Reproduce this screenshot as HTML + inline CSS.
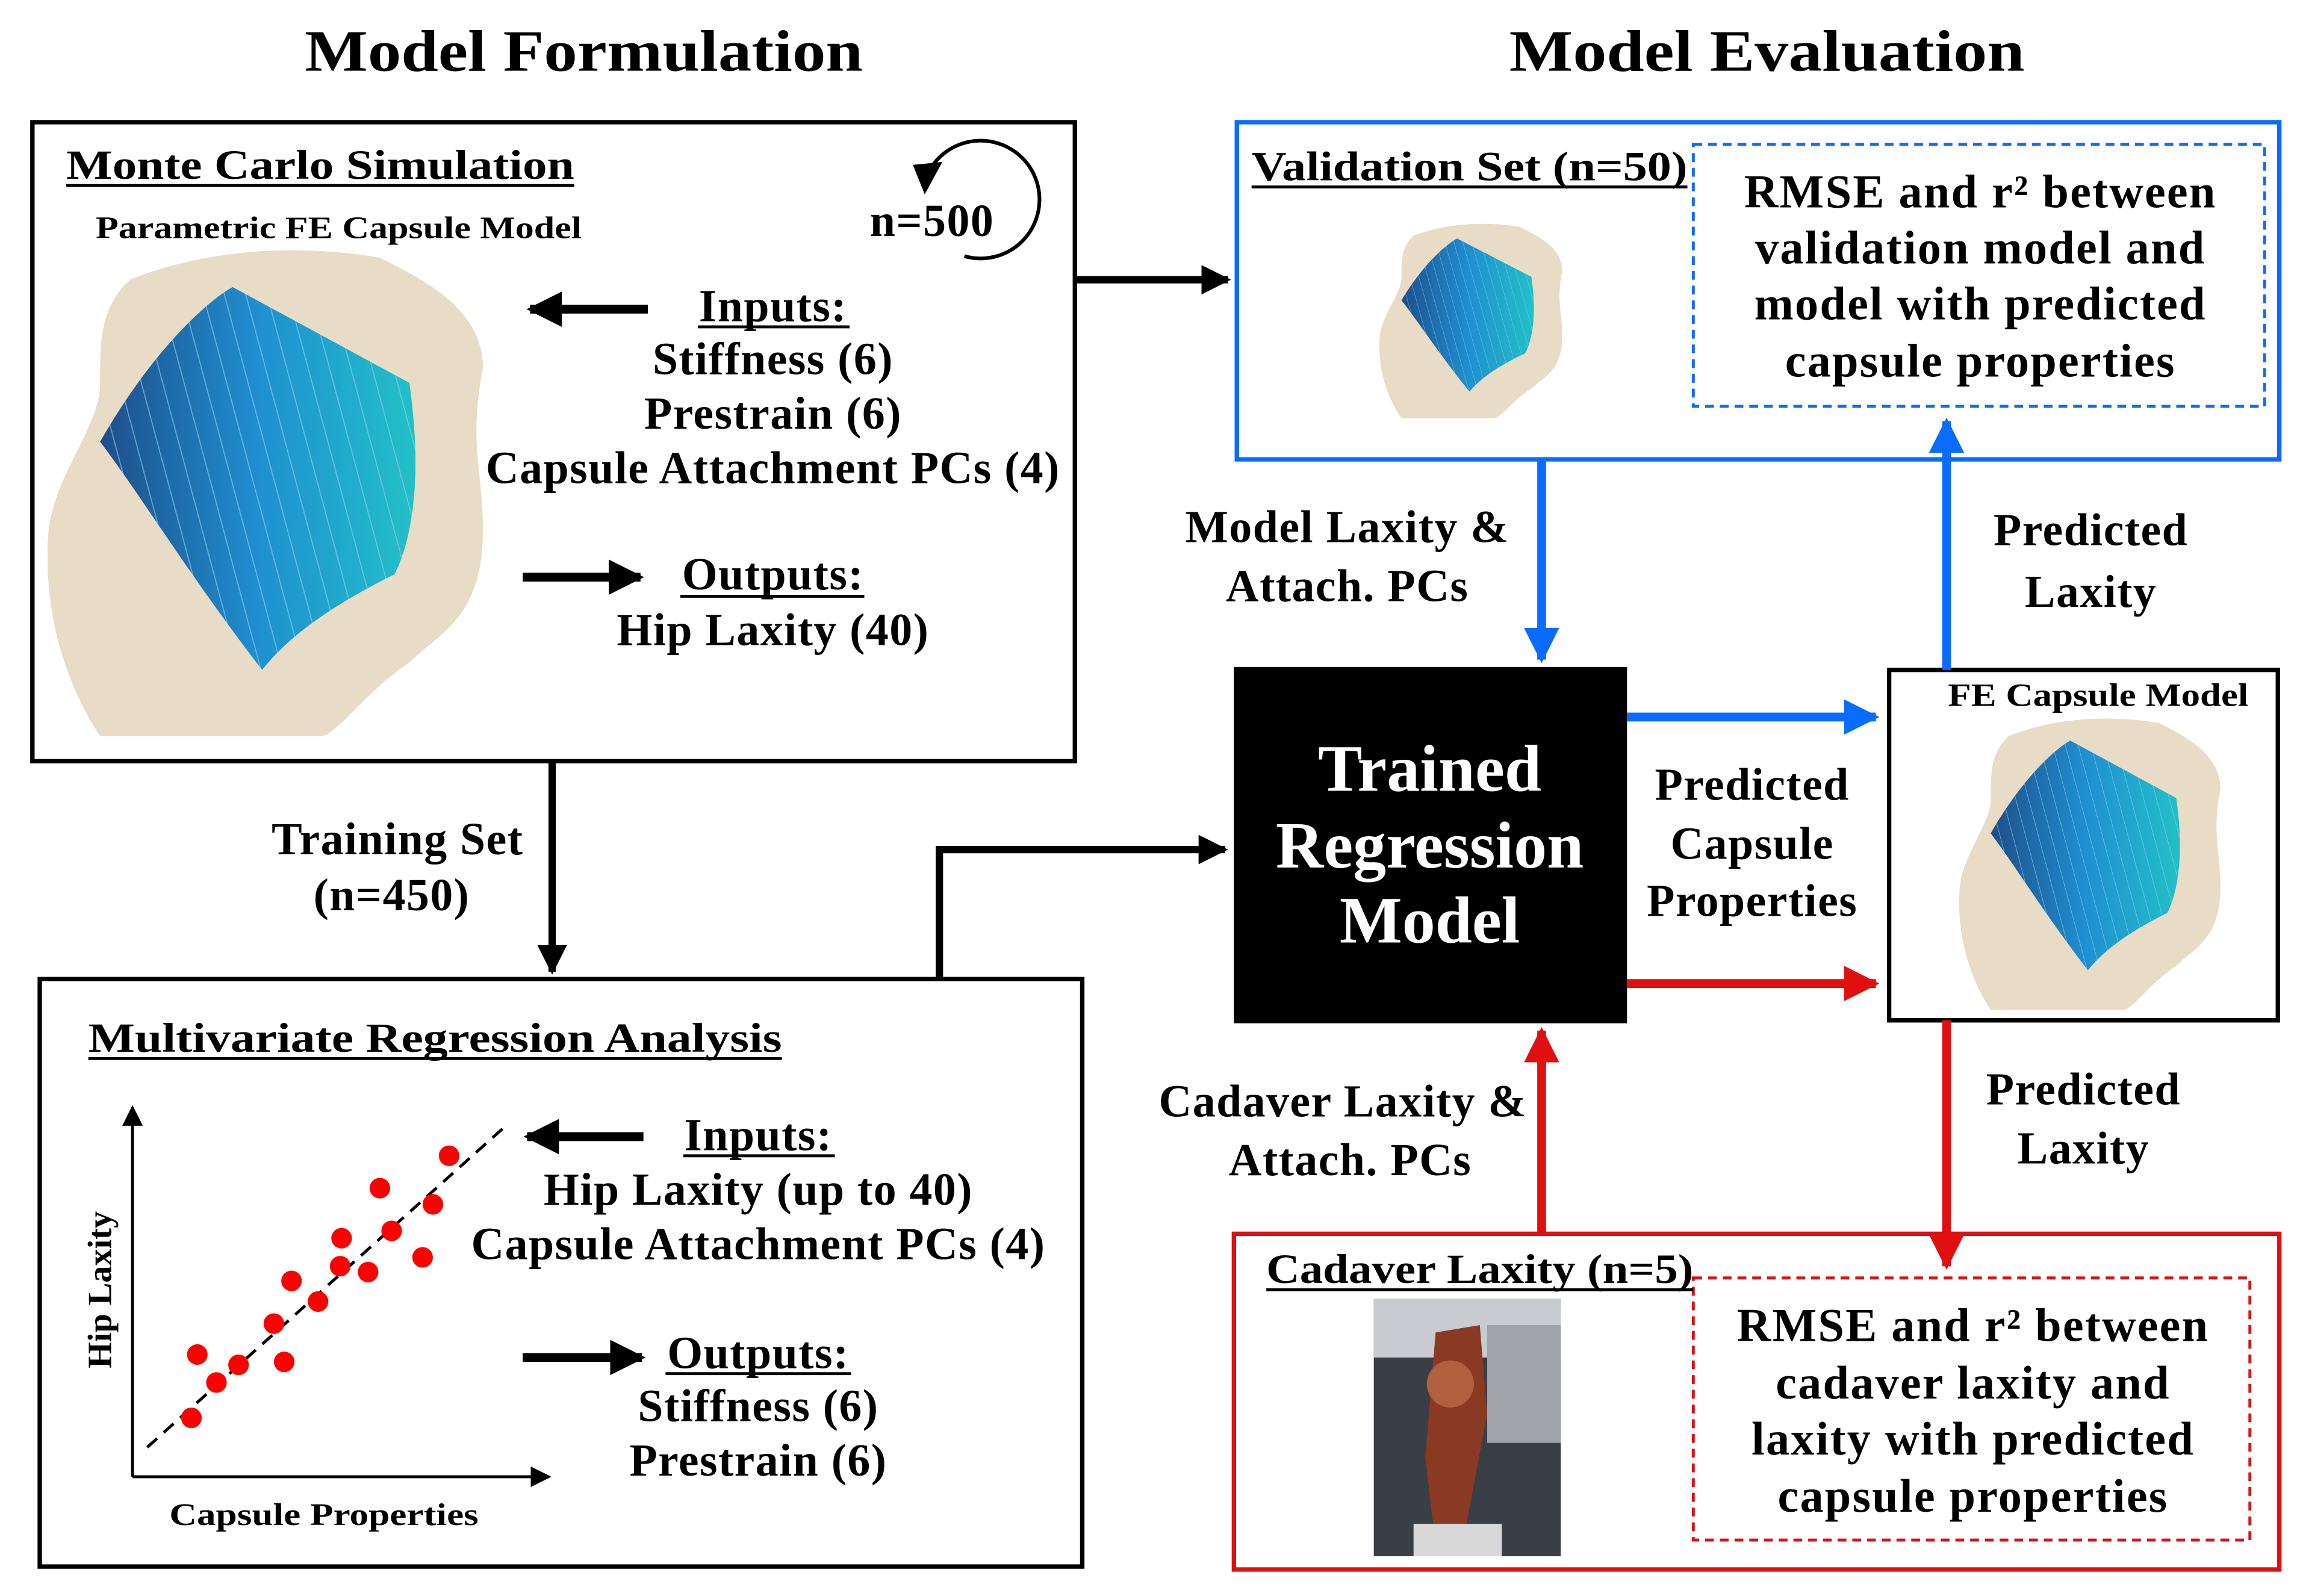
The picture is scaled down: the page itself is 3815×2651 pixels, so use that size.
<!DOCTYPE html>
<html><head><meta charset="utf-8"><style>
html,body{margin:0;padding:0;background:#fff;}
svg{display:block;}
text{font-family:"Liberation Serif",serif;font-weight:bold;fill:#000;}
.b{font-size:31px;letter-spacing:0.6px;}
.r{font-size:32px;letter-spacing:0.9px;}
</style></head><body>
<svg width="3815" height="2651" viewBox="0 0 1560 1084" preserveAspectRatio="none" xmlns="http://www.w3.org/2000/svg">
<defs>
<marker id="ak" viewBox="0 0 10 10" refX="9" refY="5" markerWidth="4" markerHeight="4" orient="auto"><path d="M0,0 L10,5 L0,10 z" fill="#000"/></marker>
<marker id="ab" viewBox="0 0 10 10" refX="9" refY="5" markerWidth="4" markerHeight="4" orient="auto"><path d="M0,0 L10,5 L0,10 z" fill="#0a6cff"/></marker>
<marker id="ar" viewBox="0 0 10 10" refX="9" refY="5" markerWidth="4" markerHeight="4" orient="auto"><path d="M0,0 L10,5 L0,10 z" fill="#e01010"/></marker>
<marker id="as" viewBox="0 0 10 10" refX="9" refY="5" markerWidth="7" markerHeight="7" orient="auto"><path d="M0,0 L10,5 L0,10 z" fill="#000"/></marker>
<linearGradient id="cap" x1="0" y1="0" x2="1" y2="0"><stop offset="0" stop-color="#1e4e8a"/><stop offset="0.5" stop-color="#1f8fd0"/><stop offset="1" stop-color="#22c0c8"/></linearGradient>
<pattern id="str" width="14" height="14" patternUnits="userSpaceOnUse" patternTransform="rotate(-15)"><rect width="14" height="14" fill="none"/><line x1="0" y1="0" x2="0" y2="14" stroke="#8fd0f0" stroke-width="1.5" opacity="0.6"/></pattern>
<g id="hip">
<path d="M60,20 C110,0 170,-5 230,5 C260,20 300,40 300,80 C290,130 300,150 300,190 C300,250 270,260 250,280 C220,300 200,330 190,330 L40,330 C20,300 0,250 5,190 C10,150 40,120 40,90 C40,60 40,40 60,20 z" fill="#e8dcc6"/>
<path d="M40,130 C80,60 120,30 130,25 L250,90 C260,160 250,200 240,220 C200,240 170,260 150,285 C100,220 70,170 40,130 z" fill="url(#cap)"/>
<path d="M40,130 C80,60 120,30 130,25 L250,90 C260,160 250,200 240,220 C200,240 170,260 150,285 C100,220 70,170 40,130 z" fill="url(#str)"/>
</g>
</defs>

<text x="207" y="35" font-size="40" dominant-baseline="central" textLength="379" lengthAdjust="spacingAndGlyphs">Model Formulation</text>
<text x="1025" y="35" font-size="40" dominant-baseline="central" textLength="350" lengthAdjust="spacingAndGlyphs">Model Evaluation</text>

<!-- Box 1 -->
<rect x="22" y="83" width="708" height="434" fill="none" stroke="#000" stroke-width="3"/>
<use href="#hip" transform="translate(28,170)"/>
<text x="45" y="112" font-size="28" dominant-baseline="central" textLength="345" lengthAdjust="spacingAndGlyphs">Monte Carlo Simulation</text>
<line x1="45" y1="126" x2="390" y2="126" stroke="#000" stroke-width="2"/>
<text x="65" y="155" font-size="21" dominant-baseline="central" textLength="330" lengthAdjust="spacingAndGlyphs">Parametric FE Capsule Model</text>
<text x="633" y="150" class="b" text-anchor="middle" dominant-baseline="central">n=500</text>
<path d="M630,118 A40,40 0 1,1 655,174" fill="none" stroke="#000" stroke-width="2.5"/>
<path d="M620,112 L640,110 L628,132 z" fill="#000"/>
<line x1="440" y1="210" x2="360" y2="210" stroke="#000" stroke-width="6" marker-end="url(#ak)"/>
<text x="525" y="208" class="b" text-anchor="middle" dominant-baseline="central">Inputs:</text>
<line x1="474" y1="222" x2="577" y2="222" stroke="#000" stroke-width="2"/>
<text x="525" y="244" class="b" text-anchor="middle" dominant-baseline="central">Stiffness (6)</text>
<text x="525" y="281" class="b" text-anchor="middle" dominant-baseline="central">Prestrain (6)</text>
<text x="525" y="318" class="b" text-anchor="middle" dominant-baseline="central">Capsule Attachment PCs (4)</text>
<line x1="355" y1="392" x2="435" y2="392" stroke="#000" stroke-width="6" marker-end="url(#ak)"/>
<text x="525" y="390" class="b" text-anchor="middle" dominant-baseline="central">Outputs:</text>
<line x1="462" y1="405" x2="587" y2="405" stroke="#000" stroke-width="2"/>
<text x="525" y="428" class="b" text-anchor="middle" dominant-baseline="central">Hip Laxity (40)</text>

<line x1="730" y1="190" x2="834" y2="190" stroke="#000" stroke-width="5" marker-end="url(#ak)"/>

<!-- Validation -->
<rect x="840" y="83" width="708" height="229" fill="none" stroke="#0a6cff" stroke-width="3"/>
<rect x="1150" y="98" width="388" height="178" fill="none" stroke="#0a6cff" stroke-width="2" stroke-dasharray="6,4"/>
<text x="850" y="113" font-size="28" dominant-baseline="central" textLength="296" lengthAdjust="spacingAndGlyphs">Validation Set (n=50)</text>
<line x1="850" y1="127" x2="1146" y2="127" stroke="#000" stroke-width="2"/>
<text x="1345" y="130" class="r" text-anchor="middle" dominant-baseline="central">RMSE and r² between</text>
<text x="1345" y="168" class="r" text-anchor="middle" dominant-baseline="central">validation model and</text>
<text x="1345" y="206" class="r" text-anchor="middle" dominant-baseline="central">model with predicted</text>
<text x="1345" y="245" class="r" text-anchor="middle" dominant-baseline="central">capsule properties</text>
<use href="#hip" transform="translate(935,152) scale(0.42,0.4)"/>

<line x1="1047" y1="312" x2="1047" y2="448" stroke="#0a6cff" stroke-width="6" marker-end="url(#ab)"/>
<text x="915" y="358" class="b" text-anchor="middle" dominant-baseline="central">Model Laxity &amp;</text>
<text x="915" y="398" class="b" text-anchor="middle" dominant-baseline="central">Attach. PCs</text>

<!-- Trained -->
<rect x="838" y="453" width="267" height="242" fill="#000"/>
<text x="971" y="522" font-size="45" text-anchor="middle" dominant-baseline="central" style="fill:#fff">Trained</text>
<text x="971" y="574" font-size="45" text-anchor="middle" dominant-baseline="central" style="fill:#fff">Regression</text>
<text x="971" y="625" font-size="45" text-anchor="middle" dominant-baseline="central" style="fill:#fff">Model</text>

<line x1="1105" y1="487" x2="1274" y2="487" stroke="#0a6cff" stroke-width="6" marker-end="url(#ab)"/>
<line x1="1105" y1="668" x2="1274" y2="668" stroke="#e01010" stroke-width="6" marker-end="url(#ar)"/>
<text x="1190" y="533" class="b" text-anchor="middle" dominant-baseline="central">Predicted</text>
<text x="1190" y="573" class="b" text-anchor="middle" dominant-baseline="central">Capsule</text>
<text x="1190" y="612" class="b" text-anchor="middle" dominant-baseline="central">Properties</text>

<!-- FE box -->
<rect x="1283" y="455" width="264" height="238" fill="none" stroke="#000" stroke-width="3"/>
<use href="#hip" transform="translate(1328,488) scale(0.6,0.6)"/>
<text x="1425" y="472" font-size="22" text-anchor="middle" dominant-baseline="central" textLength="204" lengthAdjust="spacingAndGlyphs">FE Capsule Model</text>

<line x1="1322" y1="455" x2="1322" y2="286" stroke="#0a6cff" stroke-width="6" marker-end="url(#ab)"/>
<text x="1420" y="360" class="b" text-anchor="middle" dominant-baseline="central">Predicted</text>
<text x="1420" y="402" class="b" text-anchor="middle" dominant-baseline="central">Laxity</text>

<line x1="1322" y1="693" x2="1322" y2="860" stroke="#e01010" stroke-width="6" marker-end="url(#ar)"/>
<text x="1415" y="740" class="b" text-anchor="middle" dominant-baseline="central">Predicted</text>
<text x="1415" y="780" class="b" text-anchor="middle" dominant-baseline="central">Laxity</text>

<!-- Cadaver -->
<rect x="838" y="838" width="710" height="228" fill="none" stroke="#e01010" stroke-width="3"/>
<rect x="1150" y="868" width="378" height="178" fill="none" stroke="#e01010" stroke-width="2" stroke-dasharray="6,4"/>
<text x="860" y="862" font-size="28" dominant-baseline="central" textLength="290" lengthAdjust="spacingAndGlyphs">Cadaver Laxity (n=5)</text>
<line x1="860" y1="876" x2="1150" y2="876" stroke="#000" stroke-width="2"/>
<text x="1340" y="900" class="r" text-anchor="middle" dominant-baseline="central">RMSE and r² between</text>
<text x="1340" y="939" class="r" text-anchor="middle" dominant-baseline="central">cadaver laxity and</text>
<text x="1340" y="977" class="r" text-anchor="middle" dominant-baseline="central">laxity with predicted</text>
<text x="1340" y="1016" class="r" text-anchor="middle" dominant-baseline="central">capsule properties</text>
<rect x="933" y="882" width="127" height="175" fill="#3a3f45"/>
<rect x="933" y="882" width="127" height="40" fill="#c8ccd0"/>
<rect x="1010" y="900" width="50" height="80" fill="#a0a4a8"/>
<path d="M975,905 L1005,900 L1010,960 L995,1040 L975,1050 L968,990 z" fill="#8a3a22"/>
<circle cx="985" cy="940" r="16" fill="#b06040"/>
<rect x="960" y="1035" width="60" height="22" fill="#d8d8d8"/>

<line x1="1047" y1="838" x2="1047" y2="700" stroke="#e01010" stroke-width="6" marker-end="url(#ar)"/>
<text x="912" y="748" class="b" text-anchor="middle" dominant-baseline="central">Cadaver Laxity &amp;</text>
<text x="917" y="788" class="b" text-anchor="middle" dominant-baseline="central">Attach. PCs</text>

<!-- Training arrow -->
<line x1="375" y1="517" x2="375" y2="660" stroke="#000" stroke-width="5" marker-end="url(#ak)"/>
<text x="270" y="570" class="b" text-anchor="middle" dominant-baseline="central">Training Set</text>
<text x="266" y="608" class="b" text-anchor="middle" dominant-baseline="central">(n=450)</text>

<!-- Box 3 -->
<rect x="27" y="665" width="708" height="399" fill="none" stroke="#000" stroke-width="3"/>
<polyline points="638,665 638,577 832,577" fill="none" stroke="#000" stroke-width="5" marker-end="url(#ak)"/>
<text x="60" y="705" font-size="28" dominant-baseline="central" textLength="471" lengthAdjust="spacingAndGlyphs">Multivariate Regression Analysis</text>
<line x1="60" y1="719" x2="531" y2="719" stroke="#000" stroke-width="2"/>

<line x1="90" y1="1003" x2="90" y2="752" stroke="#000" stroke-width="2" marker-end="url(#as)"/>
<line x1="90" y1="1003" x2="373" y2="1003" stroke="#000" stroke-width="2" marker-end="url(#as)"/>
<text transform="translate(68,876) rotate(-90)" font-size="23" text-anchor="middle" dominant-baseline="central">Hip Laxity</text>
<text x="220" y="1029" font-size="21" text-anchor="middle" dominant-baseline="central" textLength="210" lengthAdjust="spacingAndGlyphs">Capsule Properties</text>
<line x1="100" y1="983" x2="342" y2="766" stroke="#000" stroke-width="2" stroke-dasharray="9,6"/>
<g fill="#ff0000">
<circle cx="130" cy="963" r="7"/><circle cx="147" cy="939" r="7"/><circle cx="162" cy="927" r="7"/><circle cx="134" cy="920" r="7"/>
<circle cx="193" cy="925" r="7"/><circle cx="186" cy="899" r="7"/><circle cx="216" cy="884" r="7"/><circle cx="198" cy="870" r="7"/>
<circle cx="231" cy="860" r="7"/><circle cx="232" cy="841" r="7"/><circle cx="250" cy="864" r="7"/><circle cx="266" cy="836" r="7"/>
<circle cx="258" cy="807" r="7"/><circle cx="287" cy="854" r="7"/><circle cx="294" cy="818" r="7"/><circle cx="305" cy="785" r="7"/>
</g>
<line x1="437" y1="772" x2="358" y2="772" stroke="#000" stroke-width="6" marker-end="url(#ak)"/>
<text x="515" y="771" class="b" text-anchor="middle" dominant-baseline="central">Inputs:</text>
<line x1="464" y1="785" x2="567" y2="785" stroke="#000" stroke-width="2"/>
<text x="515" y="808" class="b" text-anchor="middle" dominant-baseline="central">Hip Laxity (up to 40)</text>
<text x="515" y="845" class="b" text-anchor="middle" dominant-baseline="central">Capsule Attachment PCs (4)</text>
<line x1="355" y1="922" x2="436" y2="922" stroke="#000" stroke-width="6" marker-end="url(#ak)"/>
<text x="515" y="919" class="b" text-anchor="middle" dominant-baseline="central">Outputs:</text>
<line x1="452" y1="933" x2="578" y2="933" stroke="#000" stroke-width="2"/>
<text x="515" y="955" class="b" text-anchor="middle" dominant-baseline="central">Stiffness (6)</text>
<text x="515" y="992" class="b" text-anchor="middle" dominant-baseline="central">Prestrain (6)</text>
</svg>
</body></html>
